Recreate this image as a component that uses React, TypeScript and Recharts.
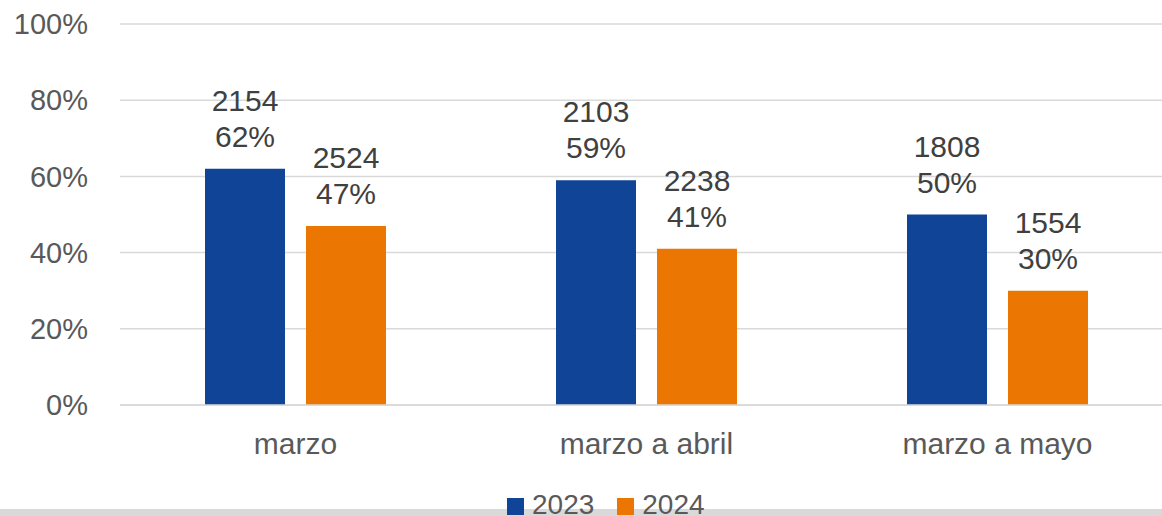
import { BarChart, Bar, XAxis, YAxis, CartesianGrid, Legend, LabelList } from 'recharts'

const categories = ['marzo', 'marzo a abril', 'marzo a mayo']
const counts2023 = [2154, 2103, 1808]
const counts2024 = [2524, 2238, 1554]
const share2023 = [62, 59, 50]
const share2024 = [47, 41, 30]
const yTicks = [0, 20, 40, 60, 80, 100]

const BLUE = '#0F4496'
const ORANGE = '#EB7602'
const TEXT = '#595959'
const FONT = '"Liberation Sans", Arial, sans-serif'

const chartData = categories.map((label, i) => ({
  label,
  y2023: share2023[i],
  y2024: share2024[i],
}))

// two-line label: count on top, share below
function makeLabel(counts: number[]) {
  return (props: any) => {
    const { x, y, width, value, index } = props
    const cx = Number(x) + Number(width) / 2
    const top = Number(y)
    return (
      <text x={cx} textAnchor="middle" fill="#404040" fontSize={30} fontFamily={FONT}>
        <tspan x={cx} y={top - 58}>{counts[index]}</tspan>
        <tspan x={cx} y={top - 22}>{value}%</tspan>
      </text>
    )
  }
}

function LegendContent() {
  const items = [
    { name: '2023', color: BLUE },
    { name: '2024', color: ORANGE },
  ]
  return (
    <div style={{ display: 'flex', justifyContent: 'flex-start', paddingLeft: 507, paddingTop: 4, fontFamily: FONT, fontSize: 28, color: TEXT, lineHeight: '22px' }}>
      {items.map((it) => (
        <span key={it.name} style={{ display: 'flex', alignItems: 'flex-start', marginRight: 23 }}>
          <span style={{ display: 'inline-block', width: 17, height: 17, background: it.color, marginRight: 8, marginTop: 4 }} />
          {it.name}
        </span>
      ))}
    </div>
  )
}

export default function App() {
  return (
    <div style={{ position: 'fixed', left: 0, top: 0, width: 1162, height: 516, overflow: 'hidden', background: '#fff' }}>
      <div style={{ position: 'absolute', left: 0, top: 509, width: 1162, height: 7, background: '#D9D9D9' }} />
      <div style={{ position: 'absolute', left: 0, top: 0 }}>
        <BarChart
          width={1173}
          height={516}
          data={chartData}
          margin={{ top: 24, right: 0, bottom: 0, left: 0 }}
          barCategoryGap={85}
          barGap={21}
        >
          <CartesianGrid vertical={false} stroke="#D9D9D9" strokeWidth={1.5} />
          <XAxis
            dataKey="label"
            axisLine={{ stroke: '#D9D9D9', strokeWidth: 1.5 }}
            tickLine={false}
            height={85}
            tickMargin={22}
            tick={{ fontSize: 30, fill: TEXT, fontFamily: FONT }}
          />
          <YAxis
            domain={[0, 100]}
            ticks={yTicks}
            tickFormatter={(v: number) => `${v}%`}
            axisLine={false}
            tickLine={false}
            width={120}
            tickSize={0}
            tickMargin={32}
            tick={{ fontSize: 29, fill: TEXT, fontFamily: FONT }}
          />
          <Legend verticalAlign="bottom" height={26} content={<LegendContent />} />
          <Bar dataKey="y2023" name="2023" fill={BLUE} isAnimationActive={false}>
            <LabelList dataKey="y2023" content={makeLabel(counts2023)} />
          </Bar>
          <Bar dataKey="y2024" name="2024" fill={ORANGE} isAnimationActive={false}>
            <LabelList dataKey="y2024" content={makeLabel(counts2024)} />
          </Bar>
        </BarChart>
      </div>
    </div>
  )
}
